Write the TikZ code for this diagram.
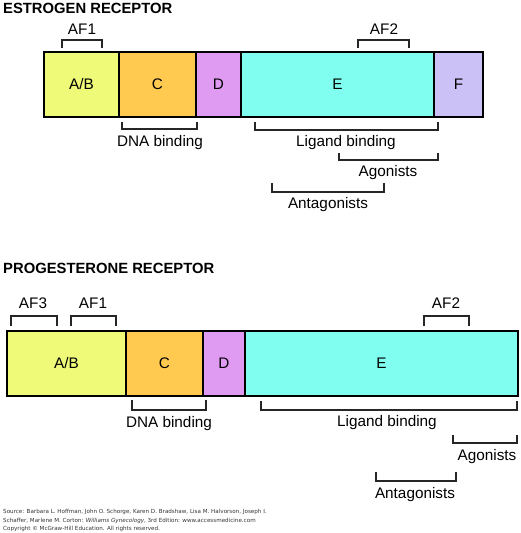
\documentclass[tikz,border=0pt]{standalone}
\usepackage{fontspec}
\setmainfont{Liberation Sans}
\newfontfamily\srcfont{DejaVu Sans}
\usetikzlibrary{positioning}

\definecolor{abcol}{HTML}{EEFA78}
\definecolor{ccol}{HTML}{FFCA4F}
\definecolor{dcol}{HTML}{DF9AF2}
\definecolor{ecol}{HTML}{80FFF1}
\definecolor{fcol}{HTML}{CBC1F6}

\begin{document}
\begin{tikzpicture}[x=1pt, y=-1pt, font=\fontsize{15.3}{17}\selectfont, node distance=0pt,
  seg/.style={draw, line width=1.8pt, minimum height=65pt, inner sep=0pt, outer sep=0pt},
  title/.style={anchor=west, font=\fontsize{14.8}{16}\selectfont\bfseries, inner sep=0pt},
  lbl/.style={inner sep=0pt},
  brk/.style={draw, line width=1.1pt, black!85}]
\useasboundingbox (0,0) rectangle (520,533);

% estrogen receptor
\node[title] (ert) at (3,8) {ESTROGEN RECEPTOR};
\node[seg, fill=abcol, minimum width=75pt, anchor=north west] (erab) at (44,52) {A/B};
\node[seg, fill=ccol, minimum width=77pt, right=of erab] (erc) {C};
\node[seg, fill=dcol, minimum width=45pt, right=of erc] (erd) {D};
\node[seg, fill=ecol, minimum width=193pt, right=of erd] (ere) {E};
\node[seg, fill=fcol, minimum width=49pt, right=of ere] (erf) {F};

\draw[brk] (62,48) |- (102,40) -- (102,48);
\node[lbl] (eraf1) at (82,29) {AF1};
\draw[brk] (358,48) |- (409,40) -- (409,48);
\node[lbl] (eraf2) at (384,29) {AF2};

\draw[brk] (122,122) |- (197,129) -- (197,122);
\node[lbl] (erdna) at (160,143) {DNA binding};
\draw[brk] (255,122) |- (438,130) -- (438,122);
\node[lbl] (erlig) at (346,143) {Ligand binding};
\draw[brk] (339,153) |- (438,160) -- (438,153);
\node[lbl] (erago) at (388,173) {Agonists};
\draw[brk] (272,183) |- (384,192) -- (384,183);
\node[lbl] (erant) at (328,205) {Antagonists};

% progesterone receptor
\node[title] (prt) at (3,268) {PROGESTERONE RECEPTOR};
\node[seg, fill=abcol, minimum width=119pt, anchor=north west] (prab) at (7,331) {A/B};
\node[seg, fill=ccol, minimum width=77pt, right=of prab] (prc) {C};
\node[seg, fill=dcol, minimum width=42pt, right=of prc] (prd) {D};
\node[seg, fill=ecol, minimum width=273pt, right=of prd] (pre) {E};

\draw[brk] (11,326) |- (57,316) -- (57,326);
\node[lbl] (praf3) at (33,303) {AF3};
\draw[brk] (71,326) |- (116,316) -- (116,326);
\node[lbl] (praf1) at (93,303) {AF1};
\draw[brk] (424,326) |- (469,316) -- (469,326);
\node[lbl] (praf2) at (446,303) {AF2};

\draw[brk] (132,400) |- (206,410) -- (206,400);
\node[lbl] (prdna) at (169,424) {DNA binding};
\draw[brk] (261,401) |- (517,410) -- (517,401);
\node[lbl] (prlig) at (387,423) {Ligand binding};
\draw[brk] (453,435) |- (517,443) -- (517,435);
\node[lbl] (prago) at (487,457) {Agonists};
\draw[brk] (376,472) |- (456,481) -- (456,472);
\node[lbl] (prant) at (415,495) {Antagonists};

% source
\node[anchor=north west, align=left, inner sep=0pt, font=\srcfont\fontsize{5.6}{8.7}\selectfont, black!80] (src) at (3,509)
  {Source: Barbara L. Hoffman, John O. Schorge, Karen D. Bradshaw, Lisa M. Halvorson, Joseph I.\\
   Schaffer, Marlene M. Corton: \textit{Williams Gynecology}, 3rd Edition: www.accessmedicine.com\\
   Copyright \textcopyright{} McGraw-Hill Education. All rights reserved.};
\end{tikzpicture}
\end{document}
